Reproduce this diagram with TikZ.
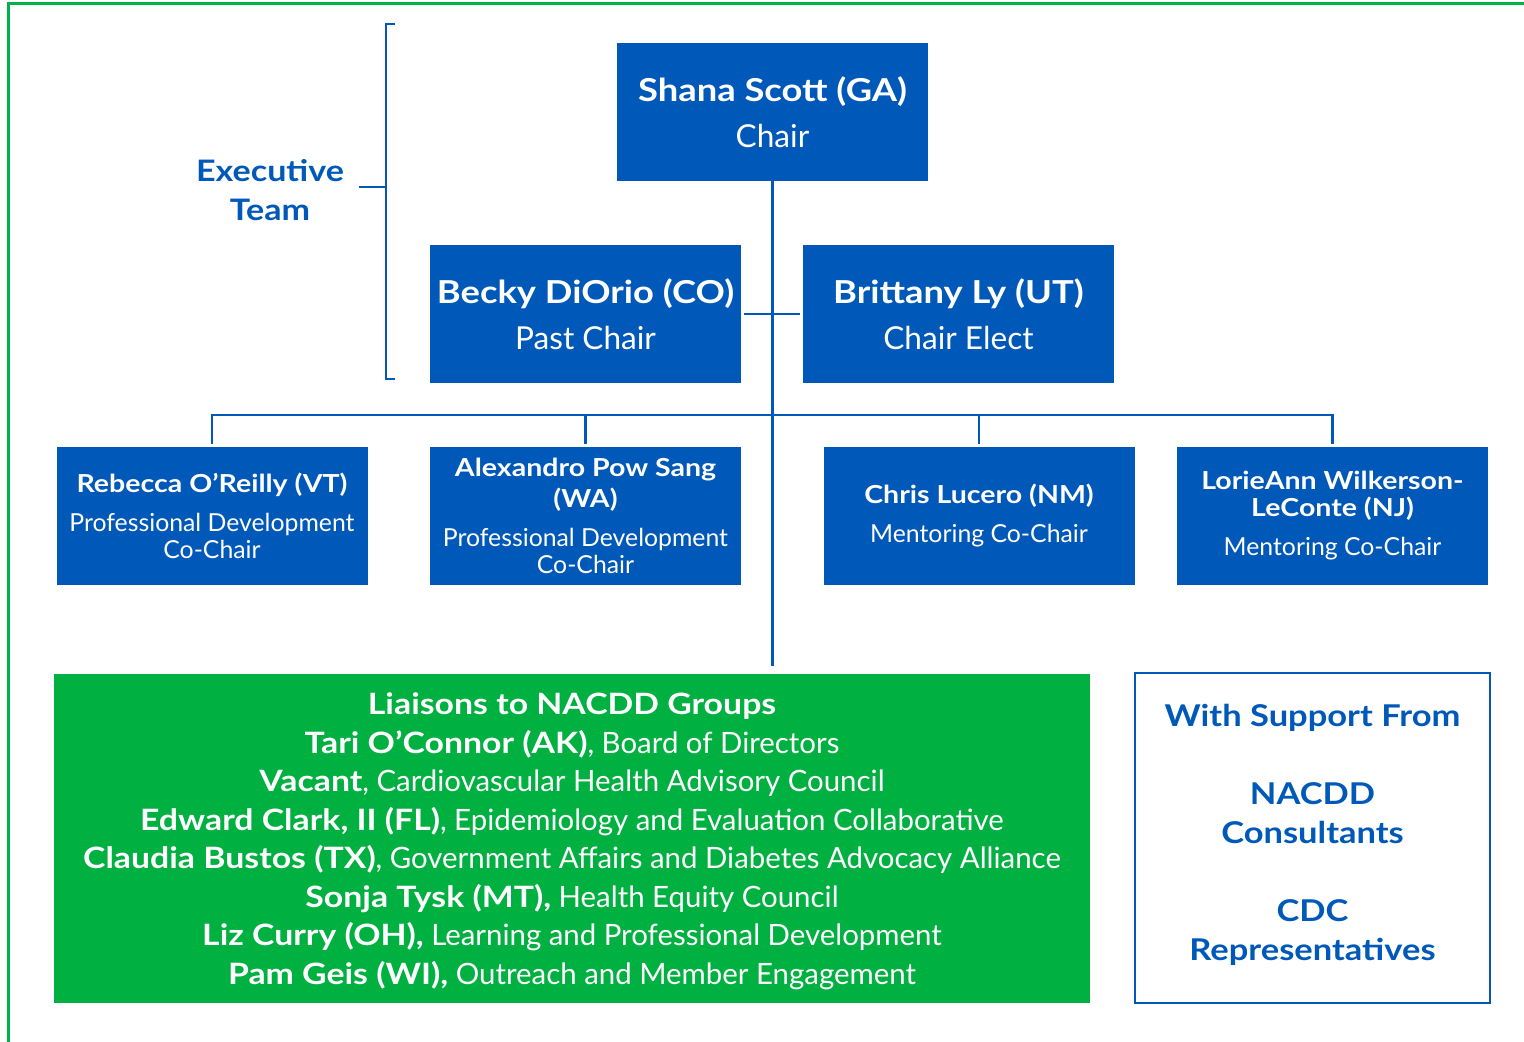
\documentclass[tikz,border=0pt]{standalone}
\usepackage{fontspec}
\setmainfont{Lato}[BoldFeatures={FakeStretch=1.15}]
\definecolor{orgblue}{RGB}{0,88,184}
\definecolor{orggreen}{RGB}{0,176,64}
\definecolor{framegreen}{RGB}{0,178,72}
\begin{document}
\begin{tikzpicture}[x=0.5pt,y=-0.5pt,inner sep=0pt,outer sep=0pt,
	execbox/.style={fill=orgblue,text=white,minimum width=155.5pt,minimum height=69pt,align=center,font=\fontsize{15.8}{23}\selectfont},
	teambox/.style={fill=orgblue,text=white,minimum width=155.5pt,minimum height=69pt,align=center,font=\fontsize{12.4}{13.5}\selectfont},
	link/.style={draw=orgblue,line width=1.25pt}]
	\useasboundingbox (0,0) rectangle (1524,1042);
	\draw[framegreen,line width=1.5pt] (1524,4) -- (8,4) -- (8,1042);
	% executive team
	\draw (772.5,112.5) node[execbox] (chair) {{\bfseries Shana Scott (GA)}\\Chair};
	\draw (585.5,314) node[execbox] (becky) {{\bfseries Becky DiOrio (CO)}\\Past Chair};
	\draw (958.5,314) node[execbox] (brittany) {{\bfseries Brittany Ly (UT)}\\Chair Elect};
	\draw (270,190.5) node[text=orgblue,align=center,font=\fontsize{14.8}{19.5}\selectfont\bfseries] (exec) {Executive\\Team};
	% co-chairs
	\draw (212,516) node[teambox] (rebecca) {{\bfseries Rebecca O’Reilly (VT)}\\[6pt]Professional Development\\Co-Chair};
	\draw (585.5,516) node[teambox] (alexandro) {{\bfseries Alexandro Pow Sang}\\[2pt]{\bfseries (WA)}\\[6pt]Professional Development\\Co-Chair};
	\draw (979,516) node[teambox] (chris) {{\bfseries Chris Lucero (NM)}\\[6pt]Mentoring Co-Chair};
	\draw (1332.5,516) node[teambox] (lorie) {{\bfseries LorieAnn Wilkerson-}\\{\bfseries LeConte (NJ)}\\[6pt]Mentoring Co-Chair};
	% liaisons and support
	\draw (572,838.5) node[fill=orggreen,minimum width=518pt,minimum height=164.5pt] (liaisons) {};
	\draw (572,841.5) node[text=white,align=center,font=\fontsize{14.7}{19.25}\selectfont] (liaisontext) {{\bfseries Liaisons to NACDD Groups}\\
		{\bfseries Tari O’Connor (AK)}, Board of Directors\\
		{\bfseries Vacant}, Cardiovascular Health Advisory Council\\
		{\bfseries Edward Clark, II (FL)}, Epidemiology and Evaluation Collaborative\\
		{\bfseries Claudia Bustos (TX)}, Government Affairs and Diabetes Advocacy Alliance\\
		{\bfseries Sonja Tysk (MT),} Health Equity Council\\
		{\bfseries Liz Curry (OH),} Learning and Professional Development\\
		{\bfseries Pam Geis (WI),} Outreach and Member Engagement};
	\draw (1312.5,838) node[draw=orgblue,line width=1.25pt,minimum width=177.5pt,minimum height=165pt] (support) {};
	\draw (1312.5,835) node[text=orgblue,align=center,font=\fontsize{15}{19.5}\selectfont\bfseries] (supporttext) {With Support From\\[19.5pt]NACDD\\Consultants\\[19.5pt]CDC\\Representatives};
	% connectors
	\coordinate (trunkend) at (772.5,666);
	\coordinate (bus) at (772.5,415);
	\draw[link] (chair.south) -- (trunkend);
	\draw[link,shorten <=1.5pt,shorten >=1.5pt] (becky.east) -- (brittany.west);
	\draw[link,shorten <=1.5pt,shorten >=1.5pt] (rebecca.north) |- (bus) -| (lorie.north);
	\draw[link,shorten >=1.5pt] (bus -| alexandro.north) -- (alexandro.north);
	\draw[link,shorten >=1.5pt] (bus -| chris.north) -- (chris.north);
	% bracket
	\coordinate (bracemid) at (386,187);
	\draw[link] (395,24) -- (386,24) -- (386,379) -- (395,379);
	\draw[link] (bracemid) -- ++(-27,0);
\end{tikzpicture}
\end{document}
